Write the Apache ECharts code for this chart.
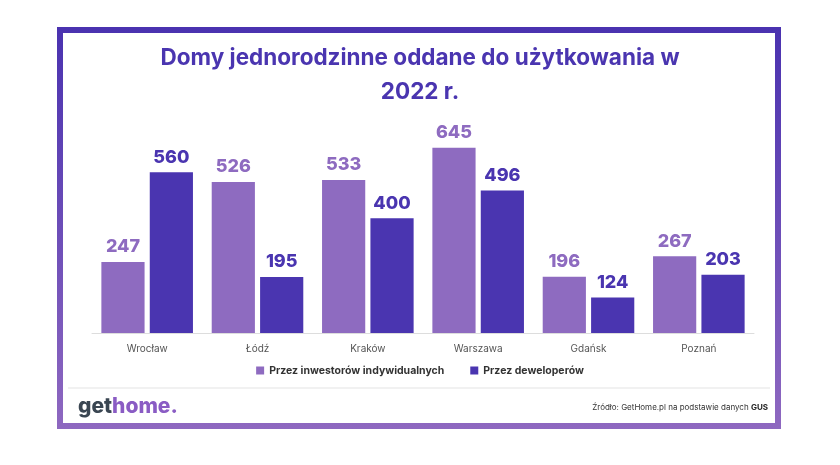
<!DOCTYPE html>
<html><head><meta charset="utf-8">
<script src="https://cdn.jsdelivr.net/npm/echarts@6/dist/echarts.min.js"></script>
<style>html,body{margin:0;padding:0;background:#fff}#c{width:840px;height:465px}</style>
</head><body><div id="c"></div>
<script>
const categories = ['Wrocław', 'Łódź', 'Kraków', 'Warszawa', 'Gdańsk', 'Poznań'];
const seriesNames = ['Przez inwestorów indywidualnych', 'Przez deweloperów'];
const individual = [247, 526, 533, 645, 196, 267];
const developers = [560, 195, 400, 496, 124, 203];
const titleLines = ['Domy jednorodzinne oddane do użytkowania w', '2022 r.'];

const LIGHT = '#8e6bc0', DARK = '#4a35b0';
const FONT = 'Inter, "Noto Sans", sans-serif';
const chart = echarts.init(document.getElementById('c'));
chart.setOption({
  animation: false,
  title: {
    text: titleLines.join('\n'), left: 'center', top: 36,
    textStyle: { fontFamily: FONT, fontSize: 22.5, fontWeight: 700, color: DARK, lineHeight: 34 }
  },
  legend: {
    bottom: 84, left: 'center', itemWidth: 8, itemHeight: 8, itemGap: 26,
    icon: 'rect',
    textStyle: { fontFamily: FONT, fontSize: 10.5, fontWeight: 700, color: '#333' },
    data: seriesNames
  },
  grid: { left: 92, right: 86, top: 132, bottom: 132, containLabel: false },
  xAxis: {
    type: 'category', data: categories,
    axisTick: { show: false },
    axisLine: { lineStyle: { color: '#dddddd', width: 1 } },
    axisLabel: { fontFamily: FONT, fontSize: 10, color: '#555', margin: 11 }
  },
  yAxis: { type: 'value', min: 0, max: 700, show: false, splitLine: { show: false } },
  series: [
    {
      name: seriesNames[0], type: 'bar', data: individual, barGap: '12%', barCategoryGap: '17%',
      itemStyle: { color: LIGHT },
      label: { show: true, position: 'top', distance: 6, fontFamily: FONT, fontSize: 18, fontWeight: 800, color: LIGHT }
    },
    {
      name: seriesNames[1], type: 'bar', data: developers,
      itemStyle: { color: DARK },
      label: { show: true, position: 'top', distance: 6, fontFamily: FONT, fontSize: 18, fontWeight: 800, color: DARK }
    }
  ],
  graphic: [
    { type: 'rect', shape: { x: 60, y: 30, width: 718, height: 396 }, silent: true,
      style: { fill: 'none', lineWidth: 6,
        stroke: new echarts.graphic.LinearGradient(0, 0, 0, 1, [{ offset: 0, color: '#4a32b0' }, { offset: 1, color: '#8e68c0' }]) } },
    { type: 'line', shape: { x1: 68, y1: 388, x2: 770, y2: 388 }, style: { stroke: '#e3e3e3', lineWidth: 1 } },
    { type: 'text', left: 78, top: 396, style: {
        text: '{a|get}{b|home.}',
        rich: { a: { fontFamily: FONT, fontSize: 21, fontWeight: 800, fill: '#3a4652' },
                b: { fontFamily: FONT, fontSize: 21, fontWeight: 800, fill: '#8a5cc4' } } } },
    { type: 'text', right: 72, top: 404, style: {
        text: '{a|Źródło: GetHome.pl na podstawie danych }{b|GUS}',
        rich: { a: { fontFamily: FONT, fontSize: 8, fill: '#333' },
                b: { fontFamily: FONT, fontSize: 8, fontWeight: 700, fill: '#222' } } } }
  ]
});
</script></body></html>
